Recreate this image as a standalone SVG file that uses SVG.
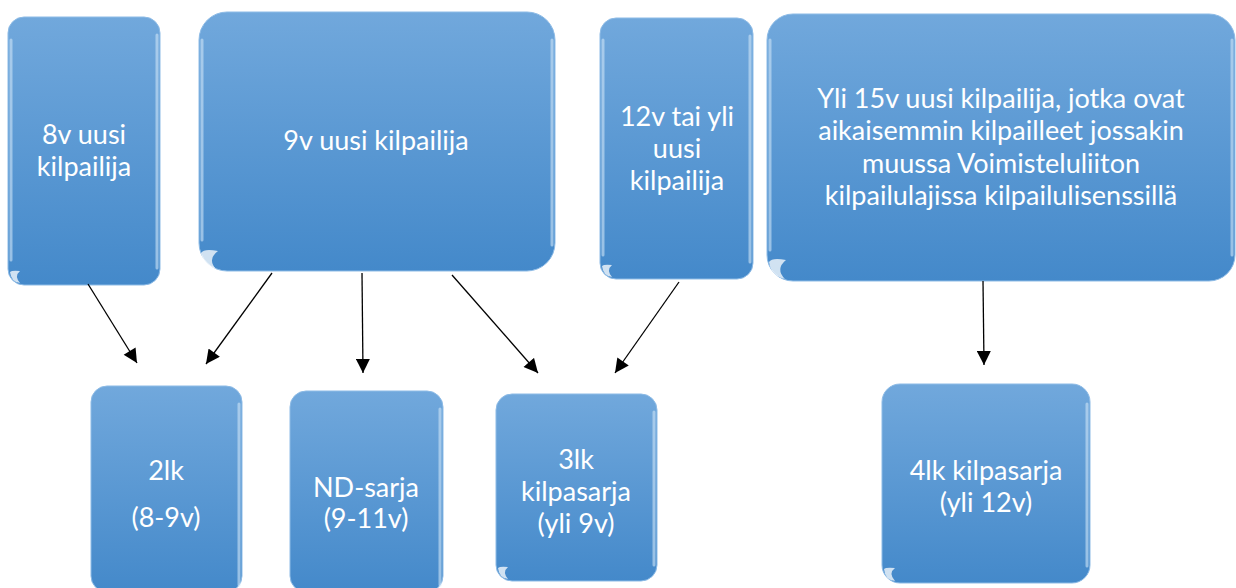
<svg xmlns="http://www.w3.org/2000/svg" width="1236" height="588" viewBox="0 0 1236 588">
<style>
.box{fill:url(#g);stroke:#8dbbe6;stroke-width:1}
.hl{fill:none;stroke:url(#hg);stroke-width:5;stroke-linecap:round;opacity:0.85}
.side{fill:none;stroke:#cfe4f7;stroke-width:3;stroke-linecap:round;opacity:0.6}
.gl{fill:#ffffff;opacity:0.75}
.t{font-family:"Lato","Noto Sans",sans-serif;font-size:27px;fill:#ffffff;text-anchor:middle}
.c{stroke:#000;stroke-width:1.3;fill:none;marker-end:url(#ah)}
</style>
<defs>
<linearGradient id="g" x1="0" y1="0" x2="0" y2="1">
<stop offset="0" stop-color="#71a8dc"/>
<stop offset="1" stop-color="#4489ca"/>
</linearGradient>
<linearGradient id="hg" x1="0" y1="0" x2="1" y2="0">
<stop offset="0" stop-color="#b8d8f5"/>
<stop offset="0.5" stop-color="#d8ebfb"/>
<stop offset="1" stop-color="#b8d8f5"/>
</linearGradient>
<marker id="ah" viewBox="0 0 10 10" refX="10" refY="5" markerWidth="15" markerHeight="14" markerUnits="userSpaceOnUse" orient="auto">
<path d="M0,0 L10,5 L0,10 z" fill="#000"/>
</marker>
</defs>

<g id="n1">
<rect class="box" x="8" y="17" width="152" height="268" rx="16"/>
<path class="hl" d="M20,25 H148"/>
<path class="side" d="M157,35 V268"/>
<path class="side" d="M11,40 V260" opacity="0.3"/>
<path class="gl" d="M10,272 Q11,282 20,283 Q14,276 20,271 Q12,270 10,272 z"/>
<text class="t" x="84" y="144">8v uusi</text>
<text class="t" x="84" y="176">kilpailija</text>
</g>

<g id="n2">
<rect class="box" x="199" y="12" width="356" height="259" rx="28"/>
<path class="hl" d="M218,23 H535"/>
<path class="side" d="M552,40 V245"/>
<path class="side" d="M202,40 V240" opacity="0.3"/>
<path class="gl" d="M201,253 Q203,266 216,269 Q207,259 218,251 Q204,248 201,253 z"/>
<text class="t" x="376" y="150">9v uusi kilpailija</text>
</g>

<g id="n3">
<rect class="box" x="600" y="18" width="153" height="261" rx="16"/>
<path class="hl" d="M612,26 H741"/>
<path class="side" d="M750,36 V262"/>
<path class="side" d="M603,40 V255" opacity="0.3"/>
<path class="gl" d="M602,266 Q603,276 612,277 Q606,270 612,265 Q604,264 602,266 z"/>
<text class="t" x="677" y="126">12v tai yli</text>
<text class="t" x="677" y="158">uusi</text>
<text class="t" x="677" y="190">kilpailija</text>
</g>

<g id="n4">
<rect class="box" x="767" y="14" width="468" height="267" rx="26"/>
<path class="hl" d="M787,24 H1215"/>
<path class="side" d="M1232,40 V255"/>
<path class="side" d="M770,40 V250" opacity="0.3"/>
<path class="gl" d="M769,262 Q771,276 785,279 Q775,269 786,260 Q772,257 769,262 z"/>
<text class="t" x="1001" y="108">Yli 15v uusi kilpailija, jotka ovat</text>
<text class="t" x="1001" y="140">aikaisemmin kilpailleet jossakin</text>
<text class="t" x="1001" y="173">muussa Voimisteluliiton</text>
<text class="t" x="1001" y="205">kilpailulajissa kilpailulisenssillä</text>
</g>

<g id="n5">
<rect class="box" x="91" y="386" width="151" height="206" rx="16"/>
<path class="hl" d="M103,394 H230"/>
<path class="side" d="M239,404 V585"/>
<text class="t" x="166" y="480">2lk</text>
<text class="t" x="166" y="527">(8-9v)</text>
</g>

<g id="n6">
<rect class="box" x="290" y="391" width="153" height="201" rx="16"/>
<path class="hl" d="M302,399 H431"/>
<path class="side" d="M440,409 V585"/>
<text class="t" x="366" y="497">ND-sarja</text>
<text class="t" x="366" y="528">(9-11v)</text>
</g>

<g id="n7">
<rect class="box" x="496" y="394" width="161" height="187" rx="16"/>
<path class="hl" d="M508,402 H645"/>
<path class="side" d="M654,412 V565"/>
<path class="gl" d="M498,568 Q499,578 508,579 Q502,572 508,567 Q500,566 498,568 z"/>
<text class="t" x="576" y="469">3lk</text>
<text class="t" x="576" y="501">kilpasarja</text>
<text class="t" x="576" y="533">(yli 9v)</text>
</g>

<g id="n8">
<rect class="box" x="882" y="384" width="208" height="199" rx="18"/>
<path class="hl" d="M896,393 H1076"/>
<path class="side" d="M1087,404 V566"/>
<path class="gl" d="M884,569 Q885,580 895,581 Q888,573 895,568 Q886,567 884,569 z"/>
<text class="t" x="986" y="480">4lk kilpasarja</text>
<text class="t" x="986" y="512">(yli 12v)</text>
</g>

<g id="connectors">
<path class="c" d="M88,284 L137,363"/>
<path class="c" d="M272,273 L206,364"/>
<path class="c" d="M362,273 L363,373"/>
<path class="c" d="M452,275 L538,373"/>
<path class="c" d="M679,282 L615,373"/>
<path class="c" d="M983,281 L984,365"/>
</g>
</svg>
